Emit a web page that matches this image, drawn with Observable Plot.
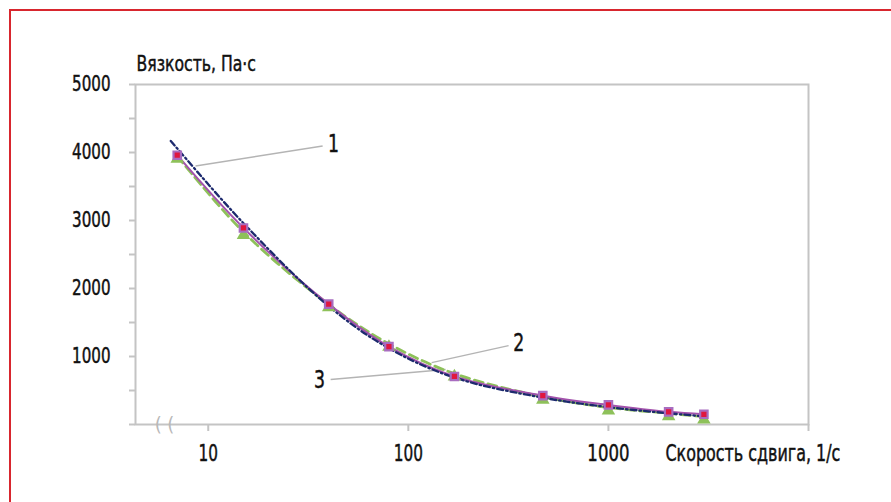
<!DOCTYPE html>
<html>
<head>
<meta charset="utf-8">
<script src="https://cdn.jsdelivr.net/npm/d3@7"></script>
<script src="https://cdn.jsdelivr.net/npm/@observablehq/plot@0.6"></script>
<style>
  html, body { margin: 0; padding: 0; background: #fff; }
  #wrap { position: relative; width: 891px; height: 502px; overflow: hidden; }
  #border { position: absolute; left: 9px; top: 9px; right: -5px; bottom: -5px; z-index: 2;
            border-top: 2px solid #d8262e; border-left: 2px solid #d8262e; pointer-events: none; }
  svg { position: absolute; left: 0; top: 0; z-index: 1; }
  svg text { font-family: "DejaVu Sans", sans-serif; font-stretch: condensed; }
</style>
</head>
<body>
<div id="wrap"><div id="border"></div></div>
<script>
// ---- data ----
const shear   = [7, 15, 40, 80, 170, 470, 1000, 2000, 3000];          // 1/с
const visc1   = [3960, 2890, 1770, 1145, 706, 424, 288, 186, 150];     // purple solid, square markers
const visc2   = [3950, 2830, 1765, 1185, 748, 408, 250, 165, 115];     // green dashed, triangles
const shear3  = [6.5, 15, 40, 80, 170, 470, 1000, 2000, 3000];
const visc3   = [4170, 2960, 1740, 1120, 690, 395, 255, 165, 120];     // navy dash-dot

const yMinorTicks = [0, 500, 1000, 1500, 2000, 2500, 3000, 3500, 4000, 4500, 5000];
const yLabelTicks = [1000, 2000, 3000, 4000, 5000];
const xAllTicks   = [10, 100, 1000, 10000];
const xLabelTicks = [10, 100, 1000];

// annotation leaders (data coordinates)
const curveLabels = ["1", "2", "3"];
const labelX  = [42.3, 356, 36.0];
const labelY  = [4126, 1189, 646];
const leadX1  = [37.3, 317, 40.9];
const leadY1  = [4097, 1160, 661];
const leadX2  = [8.64, 130.8, 153.7];
const leadY2  = [3803, 910, 808];

const yTitle = "Вязкость, Па·с";
const xTitle = "Скорость сдвига, 1/с";

// ---- tables ----
const s1 = shear.map((x, i) => ({x, y: visc1[i]}));
const s2 = shear.map((x, i) => ({x, y: visc2[i]}));
const s3 = shear3.map((x, i) => ({x, y: visc3[i]}));
const ann = curveLabels.map((t, i) => ({t, x: labelX[i], y: labelY[i], x1: leadX1[i], y1: leadY1[i], x2: leadX2[i], y2: leadY2[i]}));

const gray = "#c4c4c4";
const ink = "#111";

const chart = Plot.plot({
  width: 891,
  height: 502,
  marginLeft: 135,
  marginRight: 83,
  marginTop: 84,
  marginBottom: 78,
  x: {type: "log", domain: [4.33, 10000], label: null},
  y: {domain: [0, 5000], label: null},
  style: {fontFamily: "DejaVu Sans", background: "transparent", overflow: "visible"},
  marks: [
    Plot.frame({stroke: gray, strokeWidth: 2}),
    Plot.axisY({ticks: yMinorTicks, tickSize: 6, tickFormat: () => "", stroke: gray, strokeWidth: 2, label: null}),
    Plot.axisY({ticks: yLabelTicks, tickSize: 0, tickPadding: 25, fontSize: 21, fill: ink, tickFormat: d => String(d), label: null}),
    Plot.axisX({ticks: xAllTicks, tickSize: 7, tickFormat: () => "", stroke: gray, strokeWidth: 2, label: null}),
    Plot.axisX({ticks: xLabelTicks, tickSize: 0, tickPadding: 20, fontSize: 23, fill: ink, tickFormat: d => String(d), label: null}),
    // axis break mark
    Plot.text(["( ("], {frameAnchor: "bottom-left", dx: 29, dy: 0, fill: "#b8b8b8", fontSize: 20, textAnchor: "middle", lineAnchor: "middle"}),
    // leaders
    Plot.link(ann, {x1: "x1", y1: "y1", x2: "x2", y2: "y2", stroke: "#b4b4b4", strokeWidth: 1.5}),
    Plot.text(ann, {x: "x", y: "y", text: "t", fontSize: 24, fill: ink, textAnchor: "middle", lineAnchor: "middle"}),
    // series
    Plot.line(s2, {x: "x", y: "y", curve: "catmull-rom", stroke: "#8ec15a", strokeWidth: 2.8, strokeDasharray: "9,5"}),
    Plot.line(s1, {x: "x", y: "y", curve: "catmull-rom", stroke: "#a352ac", strokeWidth: 2}),
    Plot.line(s3, {x: "x", y: "y", curve: "catmull-rom", stroke: "#1d2a6e", strokeWidth: 2.3, strokeDasharray: "6,3,1.5,3"}),
    Plot.dot(s2, {x: "x", y: "y", symbol: "triangle", r: 5, fill: "#8ec15a", dy: 3}),
    Plot.dot(s1, {x: "x", y: "y", symbol: "square", r: 4.2, fill: "#e0173f", stroke: "#a86cc0", strokeWidth: 2.2}),
    // titles
    Plot.text([yTitle], {frameAnchor: "top-left", dx: 1, dy: -14, textAnchor: "start", lineAnchor: "bottom", fontSize: 21, fill: ink}),
    Plot.text([xTitle], {frameAnchor: "bottom-left", dx: 530, dy: 36, textAnchor: "start", lineAnchor: "bottom", fontSize: 23, fill: ink})
  ]
});
document.getElementById("wrap").appendChild(chart);

// narrow, tall lettering like the reference's condensed face
const yStr = new Set(yLabelTicks.map(String));
const xStr = new Set(xLabelTicks.map(String));
const cStr = new Set(curveLabels);
chart.querySelectorAll("text").forEach(el => {
  const t = el.textContent;
  let s = null;
  if (yStr.has(t)) s = 0.8;
  else if (t === yTitle) s = 0.83;
  else if (xStr.has(t)) s = 0.74;
  else if (t === xTitle) s = 0.77;
  else if (cStr.has(t)) s = 0.8;
  if (s == null) return;
  const b = el.getBBox();
  const anchor = getComputedStyle(el).textAnchor;
  const ax = anchor === "end" ? b.x + b.width : anchor === "middle" ? b.x + b.width / 2 : b.x;
  const prev = el.getAttribute("transform") || "";
  el.setAttribute("transform", `${prev} translate(${ax},0) scale(${s},1) translate(${-ax},0)`);
  el.style.stroke = ink;
  el.style.strokeWidth = "0.45px";
});
</script>
</body>
</html>
